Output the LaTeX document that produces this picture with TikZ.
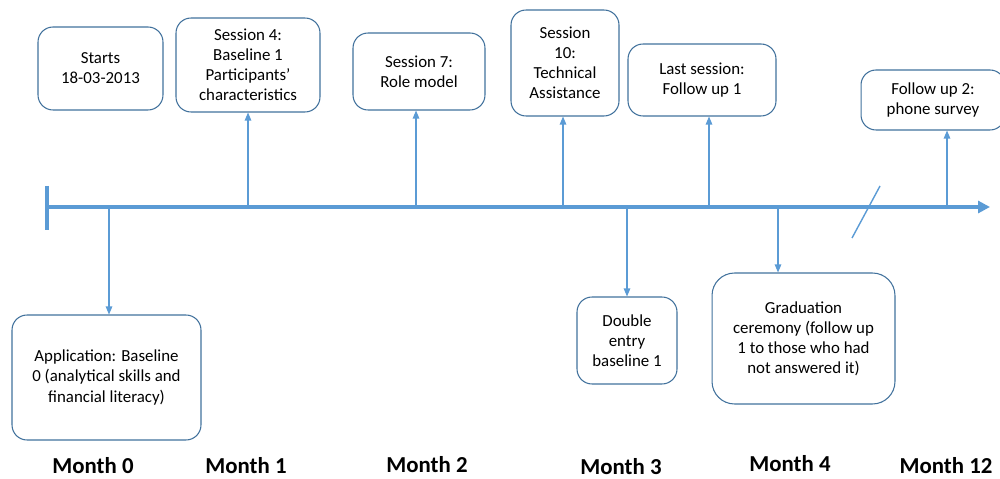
\documentclass[tikz,border=0pt]{standalone}
\usepackage{fontspec}
\setmainfont{Carlito}
\usetikzlibrary{arrows.meta,positioning}
\definecolor{axisblue}{RGB}{91,155,213}
\definecolor{boxblue}{RGB}{65,113,156}
\tikzset{box/.style={draw=boxblue,line width=0.6pt,rounded corners=0.3cm,align=center,inner sep=1pt,
  font=\fontsize{9.6}{11.4}\selectfont},
  conn/.style={draw=axisblue,line width=0.6pt,-{Triangle[length=1.6mm,width=1.3mm]}},
  month/.style={font=\fontsize{13}{15}\selectfont\bfseries}}

\begin{document}
\begin{tikzpicture}[x=0.02cm,y=-0.02cm]
\useasboundingbox (0,0) rectangle (1000,479);
\clip (0,0) rectangle (1000,479);
% time axis
\coordinate (a0) at (47,207);
\coordinate (a1) at (990,207);
\draw[axisblue,line width=2.3pt,-{Triangle[length=2.4mm,width=2.4mm]}] (a0) -- (a1);
\draw[axisblue,line width=2.3pt] (47,186) -- (47,230);
\draw[axisblue,line width=0.8pt] (852,238) -- (880,186);
% boxes above
\node[box,minimum width=2.5cm,minimum height=1.66cm] (st) at (100.5,68.5) {Starts\\18-03-2013};
\node[box,minimum width=2.88cm,minimum height=1.88cm] (s4) at (248,65) {Session 4:\\Baseline 1\\Participants’\\characteristics};
\node[box,minimum width=2.64cm,minimum height=1.54cm] (s7) at (419,71.5) {Session 7:\\Role model};
\node[box,minimum width=2.16cm,minimum height=2.12cm] (s10) at (565,63) {Session\\10:\\Technical\\Assistance};
\node[box,minimum width=2.96cm,minimum height=1.44cm] (ls) at (702,80) {Last session:\\Follow up 1};
\node[box,minimum width=2.88cm,minimum height=1.2cm] (fu) at (933,100) {Follow up 2:\\phone survey};
% boxes below
\node[box,minimum width=3.78cm,minimum height=2.5cm] (ap) at (106.5,377.5) {Application: Baseline\\0 (analytical skills and\\financial literacy)};
\node[box,minimum width=2cm,minimum height=1.74cm] (de) at (627,340.5) {Double\\entry\\baseline 1};
\node[box,rounded corners=0.45cm,minimum width=3.66cm,minimum height=2.62cm] (gr) at (803.5,338.5) {Graduation\\ceremony (follow up\\1 to those who had\\not answered it)};
% ticks on the axis
\coordinate (t0) at (109,207);
\coordinate (t1) at (248,207);
\coordinate (t2) at (416,207);
\coordinate (t3) at (563,207);
\coordinate (t4) at (627,207);
\coordinate (t5) at (709,207);
\coordinate (t6) at (778,207);
\coordinate (t7) at (947,207);
\draw[conn] (t0) -- (t0 |- ap.north);
\draw[conn] (t1) -- (t1 |- s4.south);
\draw[conn] (t2) -- (t2 |- s7.south);
\draw[conn] (t3) -- (t3 |- s10.south);
\draw[conn] (t4) -- (t4 |- de.north);
\draw[conn] (t5) -- (t5 |- ls.south);
\draw[conn] (t6) -- (t6 |- gr.north);
\draw[conn] (t7) -- (t7 |- fu.south);
% months
\node[month] (m0) at (93,466) {Month 0};
\node[month] (m1) at (246,466) {Month 1};
\node[month] (m2) at (427,465) {Month 2};
\node[month] (m3) at (621,467) {Month 3};
\node[month] (m4) at (790,464) {Month 4};
\node[month] (m12) at (946,466) {Month 12};
\end{tikzpicture}
\end{document}
